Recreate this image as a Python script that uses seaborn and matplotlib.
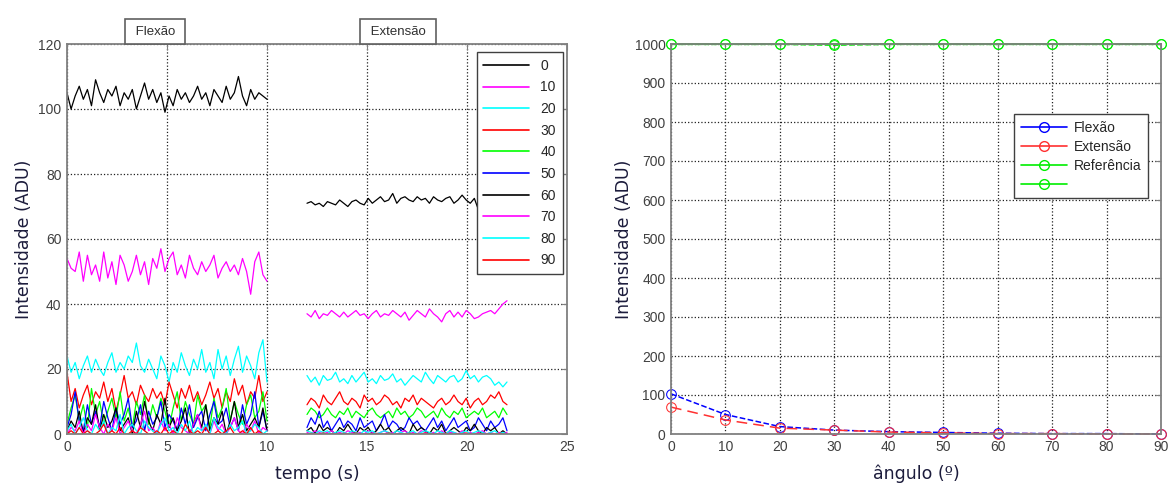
import numpy as np
import pandas as pd
import matplotlib
matplotlib.use('Agg')
import matplotlib.pyplot as plt
from matplotlib.lines import Line2D
import seaborn as sns

# ---- data ----
angulos = [0, 10, 20, 30, 40, 50, 60, 70, 80, 90]
cores = ['#000000', '#ff00ff', '#00ffff', '#ff0000', '#00ff00',
         '#0000ff', '#000000', '#ff00ff', '#00ffff', '#ff0000']

t_flex = (0.0, 10.0)
t_ext = (12.0, 22.0)

# Flexao segment (0-10 s)
f0 = [105, 100, 104, 107, 103, 106, 101, 109, 105, 102, 106, 104, 107, 101, 105, 103, 106, 100, 104, 108,
      103, 106, 102, 105, 99, 104, 101, 106, 103, 105, 102, 104, 107, 103, 105, 101, 106, 104, 102, 107,
      103, 105, 110, 104, 101, 106, 103, 105, 104, 103]
f10 = [54, 51, 50, 56, 47, 55, 49, 52, 47, 56, 48, 53, 46, 55, 52, 47, 50, 55, 49, 53,
       46, 54, 51, 57, 50, 54, 56, 49, 52, 48, 55, 51, 49, 53, 50, 52, 55, 48, 51, 53,
       50, 52, 49, 54, 50, 43, 53, 56, 49, 47]
f20 = [24, 19, 22, 17, 21, 24, 19, 23, 20, 18, 22, 25, 19, 22, 20, 24, 22, 28, 21, 19,
       23, 20, 17, 24, 21, 16, 22, 19, 25, 21, 18, 23, 20, 26, 19, 22, 17, 26, 20, 24,
       18, 23, 27, 19, 24, 21, 17, 25, 29, 16]
f30 = [19, 10, 14, 8, 12, 15, 9, 13, 11, 16, 10, 14, 7, 12, 18, 11, 13, 9, 15, 12,
       10, 14, 11, 13, 9, 16, 12, 8, 14, 11, 15, 10, 13, 9, 12, 16, 11, 14, 8, 13,
       10, 17, 12, 15, 9, 13, 11, 18, 10, 13]
f40 = [3, 8, 12, 4, 9, 2, 14, 6, 10, 3, 7, 11, 5, 13, 4, 8, 2, 10, 6, 12,
       3, 9, 5, 11, 7, 2, 8, 13, 4, 10, 6, 3, 12, 7, 9, 2, 11, 5, 8, 14,
       4, 10, 6, 3, 9, 12, 5, 7, 13, 4]
f50 = [2, 6, 13, 4, 1, 9, 3, 7, 2, 10, 5, 1, 8, 3, 6, 11, 2, 4, 9, 1,
       7, 3, 5, 10, 2, 6, 4, 1, 8, 3, 9, 2, 5, 7, 1, 6, 10, 3, 4, 8,
       2, 5, 1, 9, 3, 6, 13, 2, 7, 1]
f60 = [1, 4, 2, 7, 0, 5, 3, 9, 1, 6, 2, 4, 8, 1, 3, 5, 0, 7, 2, 10,
       4, 1, 6, 3, 11, 2, 5, 1, 4, 8, 0, 3, 6, 2, 9, 1, 5, 3, 7, 0,
       4, 10, 2, 6, 1, 3, 5, 2, 8, 1]
f70 = [0, 2, 1, 4, 0, 3, 1, 6, 2, 0, 3, 1, 5, 0, 2, 4, 1, 0, 3, 7,
       1, 2, 0, 4, 1, 3, 0, 5, 2, 1, 0, 3, 6, 1, 2, 0, 4, 1, 3, 0,
       2, 5, 1, 0, 3, 1, 4, 0, 2, 1]
f80 = [1, 3, 0, 2, 5, 1, 0, 3, 1, 4, 0, 2, 1, 6, 0, 2, 3, 1, 0, 4,
       2, 1, 0, 3, 5, 1, 2, 0, 3, 1, 4, 0, 2, 1, 3, 0, 5, 2, 1, 0,
       3, 1, 2, 4, 0, 1, 3, 2, 0, 1]
f90 = [0, 1, 0, 2, 0, 1, 0, 0, 1, 3, 0, 1, 0, 2, 0, 0, 1, 0, 2, 1,
       0, 0, 1, 0, 2, 0, 1, 0, 0, 3, 1, 0, 1, 0, 2, 0, 0, 1, 0, 1,
       2, 0, 0, 1, 0, 2, 0, 1, 0, 0]

# Extensao segment (12-22 s)
e0 = [71, 71.5, 70.5, 71, 70, 71.5, 71, 70.5, 72, 71, 70, 71.5, 72, 71, 70.5, 72.5, 71, 72, 73, 71.5,
      72, 74, 71, 72.5, 73, 72, 71.5, 73, 72, 72.5, 71, 73, 72, 71.5, 72.5, 73, 71, 72, 73.5, 72,
      71, 72.5, 69, 73, 72, 71.5, 73, 72, 74, 72]
e10 = [37, 36, 38, 35.5, 37, 36.5, 38, 37, 36, 37.5, 36, 37, 38, 36.5, 37, 35.5, 37, 38, 36, 37,
       36.5, 38, 37, 36, 37.5, 35, 36.5, 38, 37, 36, 38.5, 37, 36, 34.5, 37, 38, 36, 37.5, 36, 38,
       37, 35.5, 36, 37, 37.5, 38, 37, 38.5, 40, 41]
e20 = [18, 16, 17.5, 15, 18, 16.5, 17, 19, 16, 17, 15.5, 18, 16, 17.5, 19, 16, 17, 15.5, 18, 16.5,
       17, 18.5, 16, 17, 15, 16.5, 18, 17, 16, 19, 17, 15.5, 18, 17, 16, 17.5, 18, 16, 17, 19.5,
       17, 18, 16, 17.5, 18, 17, 15, 16, 14.5, 16]
e30 = [9, 11, 10, 8, 12, 10, 9, 11, 13, 10, 9, 11, 10, 8, 12, 10, 11, 9, 10, 12,
       11, 9, 10, 8, 11, 10, 12, 9, 11, 10, 9, 8, 10, 11, 9, 10, 12, 10, 9, 11,
       8, 10, 11, 9, 10, 12, 11, 13, 10, 9]
e40 = [6, 8, 7, 5, 6, 8, 6, 5, 7, 6, 8, 5, 7, 6, 5, 7, 8, 6, 5, 6,
       7, 5, 8, 6, 7, 5, 6, 8, 7, 5, 6, 7, 5, 8, 6, 5, 7, 6, 8, 5,
       6, 7, 6, 8, 5, 6, 7, 5, 8, 6]
e50 = [2, 5, 3, 7, 2, 4, 1, 3, 5, 2, 4, 3, 1, 5, 2, 3, 4, 1, 3, 6,
       2, 4, 3, 1, 2, 5, 3, 4, 2, 1, 3, 5, 2, 4, 1, 3, 5, 2, 3, 4,
       1, 2, 5, 3, 1, 4, 2, 3, 5, 1]
e60 = [1, 2, 0, 3, 1, 2, 1, 0, 2, 1, 3, 1, 0, 2, 1, 2, 0, 1, 3, 1,
       2, 0, 1, 2, 1, 0, 3, 1, 2, 1, 0, 2, 1, 3, 0, 1, 2, 1, 0, 2,
       1, 3, 1, 0, 2, 1, 2, 0, 1, 0]
e70 = [0.5, 0, 1, 0.5, 0, 0.5, 1, 0, 0.5, 0, 1, 0.5, 0, 0.5, 0, 1, 0.5, 0, 0.5, 1,
       0, 0.5, 0, 0.5, 1, 0, 0.5, 0, 1, 0.5, 0, 0.5, 0, 1, 0, 0.5, 0.5, 0, 1, 0,
       0.5, 0, 0.5, 1, 0, 0.5, 0, 0.5, 0, 0.5]
e80 = [1, 0.5, 0, 1, 0.5, 1, 0, 0.5, 1, 0.5, 0, 1, 0.5, 0, 1, 0.5, 1, 0, 0.5, 1,
       0.5, 0, 1, 0.5, 0, 0.5, 1, 0, 0.5, 1, 0.5, 0, 1, 0.5, 0, 1, 0.5, 0, 0.5, 1,
       0, 0.5, 1, 0.5, 0, 0.5, 1, 0, 0.5, 0]
e90 = [0, 0.2, 0, 0, 0.3, 0, 0.1, 0, 0, 0.2, 0, 0, 0.3, 0, 0, 0.1, 0, 0.2, 0, 0,
       0.3, 0, 0, 0.1, 0, 0.2, 0, 0, 0, 0.3, 0, 0.1, 0, 0, 0.2, 0, 0, 0.1, 0, 0.3,
       0, 0, 0.2, 0, 0, 0.1, 0, 0.2, 0, 0]

flexao = [f0, f10, f20, f30, f40, f50, f60, f70, f80, f90]
extensao = [e0, e10, e20, e30, e40, e50, e60, e70, e80, e90]

# right panel: mean intensity per angle
media_flex = [103, 50, 19, 10, 6, 4, 2, 1, 1, 0]
media_ext = [69, 36, 15, 10, 5, 3, 1, 1, 0, 0]
referencia = [1000, 1000, 1000, 1000, 1000, 1000, 1000, 1000, 1000, 1000]
referencia2 = [999, 999, 999, 997, 999, 999, 999, 999, 999, 999]
leg_right = ['Flexão', 'Extensão', 'Referência', '']

# ---- long table for seaborn ----
rows = []
for ang, fv, ev in zip(angulos, flexao, extensao):
    for seg, (t0, t1), vals in (('flex', t_flex, fv), ('ext', t_ext, ev)):
        tt = np.linspace(t0, t1, len(vals))
        for ti, vi in zip(tt, vals):
            rows.append((str(ang), seg, ti, vi))
df = pd.DataFrame(rows, columns=['angulo', 'seg', 't', 'I'])

sns.set_style('white')
plt.rcParams['font.family'] = ['Liberation Sans', 'DejaVu Sans']

GRAY = '#808080'
TICKC = '#404040'
LABC = '#1c1c3c'
BLUE = '#0000ff'
RED = '#ff3030'
GREEN = '#00ee00'

fig = plt.figure(figsize=(11.71, 4.84), dpi=100)
ax1 = fig.add_axes([67 / 1171, 50 / 484, 500 / 1171, 390 / 484])
ax2 = fig.add_axes([671 / 1171, 50 / 484, 490 / 1171, 390 / 484])


def estilo(ax):
    ax.grid(True, linestyle=':', color='#202020', linewidth=0.9)
    ax.set_axisbelow(True)
    for s in ax.spines.values():
        s.set_color(GRAY)
        s.set_linewidth(1.3)
    ax.tick_params(direction='in', top=True, right=True, length=4, width=0.8,
                   color=GRAY, labelsize=10, labelcolor=TICKC, pad=4)


# ---- left panel ----
palette = dict(zip([str(a) for a in angulos], cores))
sns.lineplot(data=df, x='t', y='I', hue='angulo', units='seg', estimator=None,
             palette=palette, hue_order=[str(a) for a in angulos],
             linewidth=0.9, ax=ax1, sort=False)
ax1.set_xlim(0, 25)
ax1.set_ylim(0, 120)
ax1.set_xticks([0, 5, 10, 15, 20, 25])
ax1.set_yticks([0, 20, 40, 60, 80, 100, 120])
estilo(ax1)
ax1.set_xlabel('tempo (s)', fontsize=12.5, color=LABC, family='DejaVu Sans', labelpad=8)
ax1.set_ylabel('Intensidade (ADU)', fontsize=12.5, color=LABC, family='DejaVu Sans', labelpad=4)
h, l = ax1.get_legend_handles_labels()
leg1 = ax1.legend(h, l, loc='upper right', bbox_to_anchor=(0.992, 0.98), borderaxespad=0,
                  fontsize=10, frameon=True, fancybox=False, framealpha=1,
                  edgecolor='#404040', handlelength=3.3, labelspacing=0.55,
                  handletextpad=0.8, borderpad=0.5)
leg1.get_frame().set_linewidth(1.0)
for ln in leg1.get_lines():
    ln.set_linewidth(1.2)

for txt, xc in (('Flexão', 4.4), ('Extensão', 16.55)):
    ax1.text(xc, 121.9, ' ' + txt + ' ', ha='center', va='bottom', fontsize=9.5,
             color='#303030', clip_on=False,
             bbox=dict(boxstyle='square,pad=0.5', fc='white', ec='#606060', lw=1.2))

# ---- right panel ----
sns.lineplot(x=angulos, y=media_flex, ax=ax2, color=BLUE, linestyle='--',
             marker='o', markersize=7, markerfacecolor='none',
             markeredgecolor=BLUE, linewidth=1.1)
sns.lineplot(x=angulos, y=media_ext, ax=ax2, color=RED, linestyle=(0, (7, 4)),
             marker='o', markersize=7, markerfacecolor='none',
             markeredgecolor=RED, linewidth=1.1)
sns.lineplot(x=angulos, y=referencia, ax=ax2, color=GREEN,
             marker='o', markersize=7, markerfacecolor='none',
             markeredgecolor=GREEN, linewidth=1.3)
sns.lineplot(x=angulos, y=referencia2, ax=ax2, color=GREEN, linestyle='--',
             marker='o', markersize=7, markerfacecolor='none',
             markeredgecolor=GREEN, linewidth=1.1)
for ln in ax2.get_lines():
    ln.set_clip_on(False)
ax2.set_xlim(0, 90)
ax2.set_ylim(0, 1000)
ax2.set_xticks(angulos)
ax2.set_yticks(range(0, 1001, 100))
estilo(ax2)
ax2.set_xlabel('ângulo (º)', fontsize=12.5, color=LABC, family='DejaVu Sans', labelpad=8)
ax2.set_ylabel('Intensidade (ADU)', fontsize=12.5, color=LABC, family='DejaVu Sans', labelpad=1)

handles = [Line2D([], [], color=c, marker='o', markersize=7, markerfacecolor='none',
                  markeredgecolor=c, linewidth=1.2)
           for c in (BLUE, RED, GREEN, GREEN)]
leg2 = ax2.legend(handles, leg_right, loc='upper right', bbox_to_anchor=(0.9735, 0.8205),
                  borderaxespad=0, fontsize=10, frameon=True, fancybox=False, framealpha=1,
                  edgecolor='#404040', handlelength=3.3, labelspacing=0.35,
                  handletextpad=0.5, borderpad=0.5)
leg2.get_frame().set_linewidth(1.0)

fig.savefig('out.png', dpi=100, facecolor='white')
